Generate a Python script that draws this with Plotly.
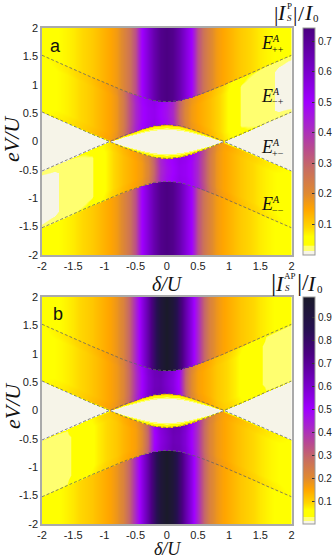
import numpy as np
import plotly.graph_objects as go

W, H = 333, 559

# dashed curves, read at |delta| knots (mirrored below)
knot_half = [0, .1, .2, .3, .4, .5, .6, .7, .8, .9, 1, 1.2, 1.4, 1.6, 1.8, 2]
upper_half = [.70, .71, .72, .75, .78, .82, .86, .90, .95, .99, 1.04, 1.13, 1.23, 1.33, 1.42, 1.52]
inner_half = [.30, .29, .28, .25, .22, .18, .14, .10, .05, .01, -.04, -.13, -.23, -.33, -.42, -.52]

# current away from the lines, one value per 0.1 of |delta|
outer_a = [.74, .72, .66, .58, .50, .34, .26, .21, .17, .15, .135, .12, .105, .095, .085, .075, .068, .062, .056, .05, .046]
outer_b = [.99, .93, .80, .67, .55, .42, .30, .22, .18, .155, .14, .125, .11, .10, .09, .078, .07, .062, .055, .05, .045]

# current between the E++ and E+- lines, delta from -2 to 2
mid_a = [.05, .053, .058, .064, .07, .078, .088, .098, .11, .125, .14, .155, .18, .24, .33, .42, .49, .52, .53, .50, .47,
         .42, .30, .21, .17, .15, .135, .12, .10, .08, .058, .044, .028, .024, .022, .02, .018, .016, .009, .008, .007]
mid_b = [.05, .055, .06, .065, .072, .08, .09, .10, .112, .125, .14, .155, .175, .21, .29, .40, .50, .58, .63, .64, .60,
         .56, .49, .30, .20, .16, .145, .13, .11, .098, .085, .072, .055, .048, .042, .036, .022, .021, .02, .02, .019]

# fringes along the lines
edge_dist = [0, .03, .1, .16]
edge_gain = [.012, .008, .005, 0]
cap_dist = [0, .015, .03, .05]
cap_value = [.035, .07, .15, 1.2]
lens_rel = [0, .08, .15, .25, .33]
lens_value = [.14, .07, .04, .02, .006]

# palette
colour_values = [0, .013, .014, .029, .032, .06, .09, .15, .2, .28, .35, .42, .5, .6, .74, .85, .99]
colour_hex = ["#f6f4e8", "#f6f4e8", "#ffff70", "#ffff70", "#ffff00", "#ffff00", "#ffd800", "#ffa500", "#e08a30",
              "#c86e60", "#b84a90", "#a828c8", "#a000ff", "#7a00cc", "#4b0082", "#261050", "#1a1a2a"]

ticks = [-2, -1.5, -1, -.5, 0, .5, 1, 1.5, 2]
tick_text = ["-2", "-1.5", "-1", "-0.5", "0", "0.5", "1", "1.5", "2"]

line_delta = [-v for v in knot_half[:0:-1]] + knot_half
upper_line = upper_half[:0:-1] + upper_half
inner_line = inner_half[:0:-1] + inner_half
step_delta = np.arange(41) / 10 - 2


def cells(outer, mid, xs, ys):
    # table for the heatmap, one cell per pixel or so, built from the read-off lists
    X, Y = np.meshgrid(xs, ys)
    top = np.interp(X, line_delta, upper_line)
    low = np.interp(X, line_delta, inner_line)
    ay = np.abs(Y)
    al = np.abs(low)
    z = np.interp(np.abs(X), step_delta[20:], outer)
    m = np.where(Y > 0, np.interp(X, step_delta, mid), np.interp(-X, step_delta, mid))
    d = np.minimum(top - ay, ay - al)
    m = m + np.interp(d, edge_dist, edge_gain)
    # the fringe sits outside the triangles but inside the lens
    m = np.where(low > 0, m, np.minimum(m, np.interp(ay - al, cap_dist, cap_value)))
    z = np.where(ay < top, m, z)
    rel = (al - ay) / np.maximum(al, 1e-6)
    inside = np.where(low > 0, np.interp(rel, lens_rel, lens_value), .005)
    return np.where(ay < al, inside, z)


def scale(zmax):
    stops = [[v / zmax, c] for v, c in zip(colour_values, colour_hex) if v < zmax]
    top_colour = [c for v, c in zip(colour_values, colour_hex) if v >= zmax][0]
    return stops + [[1, top_colour]]


xs = np.linspace(-2, 2, 250)
ys = np.linspace(-2, 2, 228)

fig = go.Figure()
panels = [
    ("x", "y", outer_a, mid_a, .743, [.1, .2, .3, .4, .5, .6, .7], 28, 255),
    ("x2", "y2", outer_b, mid_b, .99, [.1, .2, .3, .4, .5, .6, .7, .8, .9], 297, 524),
]
for xa, ya, outer, mid, zmax, cb_ticks, y0, y1 in panels:
    fig.add_trace(go.Heatmap(
        x=xs, y=ys, z=cells(outer, mid, xs, ys), xaxis=xa, yaxis=ya,
        zmin=0, zmax=zmax, colorscale=scale(zmax), zsmooth="best", hoverinfo="skip",
        colorbar=dict(
            x=303 / W, xanchor="left", thickness=12, thicknessmode="pixels",
            y=1 - y1 / H, yanchor="bottom", len=(y1 - y0) / H, lenmode="fraction",
            xpad=0, ypad=0, outlinecolor="#999999", outlinewidth=1,
            tickvals=cb_ticks, ticks="inside", ticklen=3, tickcolor="#333333",
            tickfont=dict(family="Liberation Sans", size=10, color="#222222"),
        ),
    ))
    for line in (upper_line, inner_line):
        for sign in (1, -1):
            fig.add_trace(go.Scatter(
                x=line_delta, y=[sign * v for v in line], xaxis=xa, yaxis=ya, mode="lines",
                line=dict(color="#666666", width=0.8, dash="3px,2px"), showlegend=False, hoverinfo="skip",
            ))

axis_style = dict(
    range=[-2, 2], tickmode="array", tickvals=ticks, ticktext=tick_text, ticks="",
    showgrid=False, zeroline=False, showline=True, mirror=True, linecolor="#aaaaaa", linewidth=1.5,
    tickfont=dict(family="Liberation Sans", size=11, color="#222222"),
)
fig.update_layout(
    width=W, height=H, margin=dict(l=0, r=0, t=0, b=0, autoexpand=False), paper_bgcolor="white", plot_bgcolor="white",
    showlegend=False,
    xaxis=dict(domain=[42 / W, 291.5 / W], anchor="y", **axis_style),
    yaxis=dict(domain=[1 - 255 / H, 1 - 28 / H], anchor="x", **axis_style),
    xaxis2=dict(domain=[42 / W, 291.5 / W], anchor="y2", **axis_style),
    yaxis2=dict(domain=[1 - 524 / H, 1 - 297 / H], anchor="x2", **axis_style),
)

SERIF = "Liberation Serif"
SANS = "Liberation Sans"


def note(px, py, text, size, family=SERIF, angle=0):
    fig.add_annotation(
        xref="paper", yref="paper", x=px / W, y=1 - py / H, text=text, showarrow=False,
        xanchor="center", yanchor="middle", textangle=angle, borderpad=0,
        font=dict(family=family, size=size, color="#111111"),
    )


# panel letters and axis titles
note(55, 46, "a", 18, SANS)
note(58, 314, "b", 18, SANS)
for py in (139, 406):
    note(12, py, "<i>eV/U</i>", 22, angle=-90)
note(167, 284, "<i>δ/U</i>", 20)
note(167, 548.5, "<i>δ/U</i>", 18)

# colour bar titles
note(275.5, 13, "|", 22)
note(282, 12, "<i>I</i>", 22)
note(289.5, 6, "P", 9)
note(289.5, 18, "<i>S</i>", 9)
note(295, 13, "|", 22)
note(301.5, 13, "/", 22)
note(309, 12, "<i>I</i>", 22)
note(316, 18, "0", 11)

note(273.5, 282, "|", 26)
note(280, 283, "<i>I</i>", 22)
note(290, 276, "AP", 9)
note(287, 288, "<i>S</i>", 9)
note(299, 282, "|", 26)
note(305, 282, "/", 24)
note(312, 283, "<i>I</i>", 22)
note(319.5, 289, "0", 11)

# level labels, panel a
for label, py in (("++", 43), ("−+", 96), ("+−", 147), ("−−", 204)):
    note(267, py, "<i>E</i>", 18)
    note(276, py - 5, "<i>A</i>", 10)
    note(278, py + 6, label, 10)

fig.write_html(
    "out.html",
    config={"displayModeBar": False},
    post_script="document.body.style.margin='0';document.body.style.overflow='hidden';",
)
